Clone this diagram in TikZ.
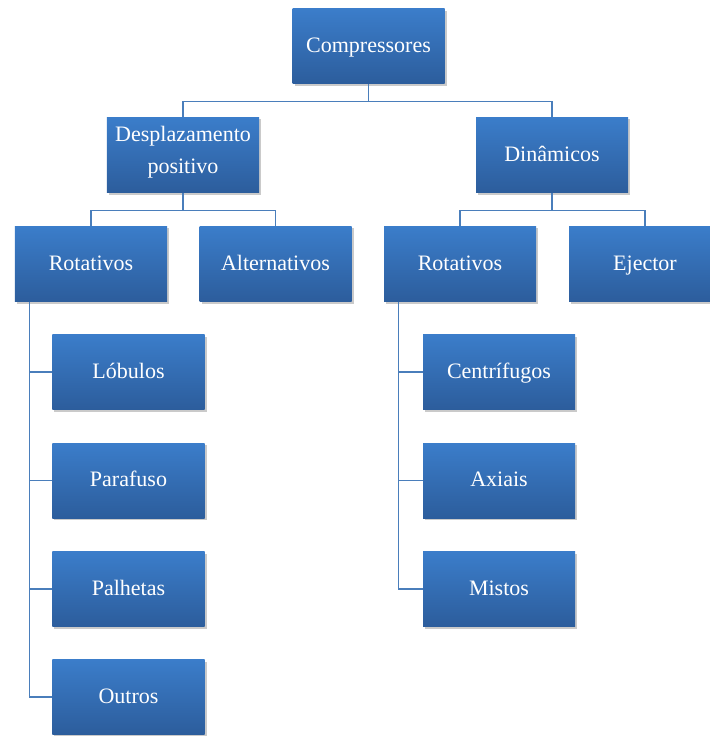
\documentclass[tikz,border=0pt]{standalone}
\usepackage{fontspec}
\setmainfont{Liberation Serif}
\usetikzlibrary{shadows}
\definecolor{boxtop}{HTML}{3B7DCA}
\definecolor{boxbot}{HTML}{2C5D9C}
\definecolor{linkblue}{HTML}{4A7EBB}
\tikzset{
  box/.style={rectangle, minimum width=4.56cm, minimum height=2.25cm, inner sep=0pt,
    top color=boxtop, bottom color=boxbot, draw=none, text=white, align=center,
    font=\fontsize{18.8}{27.3}\selectfont,
    execute at begin node=\strut, execute at end node=\strut,
    drop shadow={shadow xshift=0.06cm, shadow yshift=-0.06cm, opacity=0.35, fill=black!60}},
  conn/.style={draw=linkblue, line width=1.1pt}
}
\begin{document}
\begin{tikzpicture}[x=0.03cm,y=-0.03cm]
\useasboundingbox (0,0) rectangle (710,736);
\clip (0,0) rectangle (710,736);
% top level
\node[box] (comp) at (368.5,46.5) {Compressores};
\node[box] (desp) at (183,155)    {Desplazamento\\positivo};
\node[box] (din)  at (552,155)    {Dinâmicos};
% second level
\node[box] (rotA) at (91,264)    {Rotativos};
\node[box] (alt)  at (275.5,264) {Alternativos};
\node[box] (rotB) at (460,264)   {Rotativos};
\node[box] (ejet) at (645,264)   {Ejector};
% children of rotativos (deslocamento)
\node[box] (lob) at (128.5,372)   {Lóbulos};
\node[box] (par) at (128.5,480.5) {Parafuso};
\node[box] (pal) at (128.5,589)   {Palhetas};
\node[box] (out) at (128.5,697)   {Outros};
% children of rotativos (dinamicos)
\node[box] (cen) at (499,372)   {Centrífugos};
\node[box] (axi) at (499,480.5) {Axiais};
\node[box] (mis) at (499,589)   {Mistos};

\coordinate (rotAleg) at ([xshift=0.45cm]rotA.south west);
\coordinate (rotBleg) at ([xshift=0.45cm]rotB.south west);

\draw[conn] (desp.north) -- ++(0,-16) -| (comp.south);
\draw[conn] (din.north)  -- ++(0,-16) -| (comp.south);
\draw[conn] (rotA.north) -- ++(0,-16) -| (desp.south);
\draw[conn] (alt.north)  -- ++(0,-16) -| (desp.south);
\draw[conn] (rotB.north) -- ++(0,-16) -| (din.south);
\draw[conn] (ejet.north) -- ++(0,-16) -| (din.south);

\draw[conn] (rotAleg) |- (lob.west);
\draw[conn] (rotAleg) |- (par.west);
\draw[conn] (rotAleg) |- (pal.west);
\draw[conn] (rotAleg) |- (out.west);
\draw[conn] (rotBleg) |- (cen.west);
\draw[conn] (rotBleg) |- (axi.west);
\draw[conn] (rotBleg) |- (mis.west);
\end{tikzpicture}
\end{document}
